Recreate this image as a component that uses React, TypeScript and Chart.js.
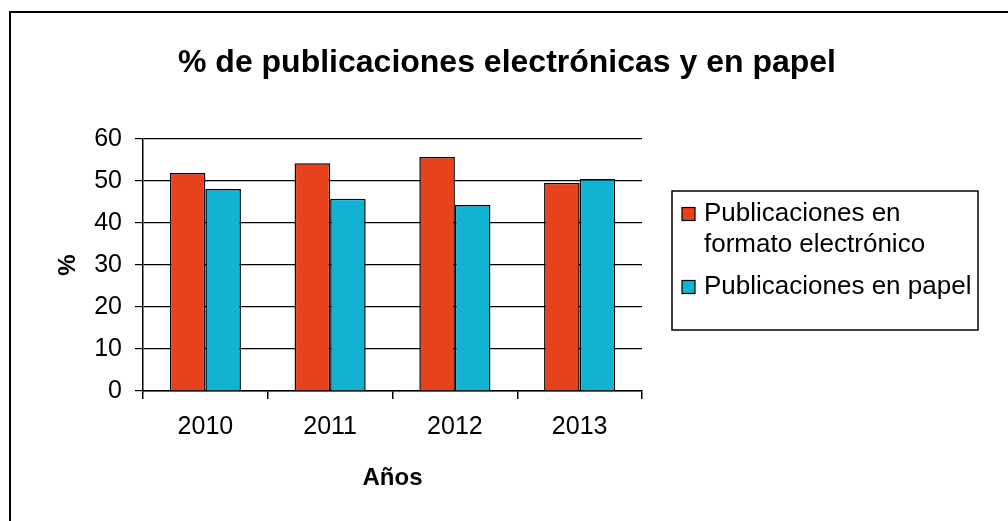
import React, { useEffect, useRef } from "react";
import { Chart, registerables } from "chart.js";

Chart.register(...registerables);

const title = "% de publicaciones electrónicas y en papel";
const categories = ["2010", "2011", "2012", "2013"];
const electronicLabel = "Publicaciones en formato electrónico";
const paperLabel = "Publicaciones en papel";
const electronicValues = [51.9, 54.2, 55.7, 49.5];
const paperValues = [48.1, 45.8, 44.3, 50.5];
const yAxisTitle = "%";
const xAxisTitle = "Años";
const yTicks = [0, 10, 20, 30, 40, 50, 60];

const RED = "rgb(232,65,30)";
const BLUE = "rgb(18,178,211)";
const FONT = "'Liberation Sans', Arial, Helvetica, sans-serif";

const framePlugin = {
  id: "framePlugin",
  afterDraw(chart: any) {
    const ctx = chart.ctx;
    ctx.save();
    // outer frame (top and left)
    ctx.strokeStyle = "#000";
    ctx.lineWidth = 2;
    ctx.beginPath();
    ctx.moveTo(10, chart.height);
    ctx.lineTo(10, 12);
    ctx.lineTo(chart.width, 12);
    ctx.stroke();

    // title
    ctx.fillStyle = "#000";
    ctx.font = `bold 32px ${FONT}`;
    ctx.textAlign = "center";
    ctx.textBaseline = "alphabetic";
    ctx.fillText(title, 507, 72);
    ctx.restore();

    // legend
    ctx.save();
    const bx = 672, by = 191, bw = 306, bh = 139;
    ctx.strokeStyle = "#000";
    ctx.lineWidth = 1.5;
    ctx.fillStyle = "#fff";
    ctx.fillRect(bx, by, bw, bh);
    ctx.strokeRect(bx, by, bw, bh);
    ctx.font = `26px ${FONT}`;
    ctx.textAlign = "left";
    ctx.textBaseline = "middle";
    const textX = 704;
    const maxW = bx + bw - textX - 3;
    let y = 214;
    chart.data.datasets.forEach((ds: any) => {
      const words = String(ds.label).split(" ");
      const lines: string[] = [];
      let cur = "";
      words.forEach((w: string) => {
        const t = cur ? cur + " " + w : w;
        if (ctx.measureText(t).width > maxW && cur) {
          lines.push(cur);
          cur = w;
        } else cur = t;
      });
      if (cur) lines.push(cur);
      ctx.fillStyle = ds.backgroundColor;
      ctx.fillRect(682, y - 6.5, 13, 13);
      ctx.lineWidth = 1.2;
      ctx.strokeRect(682, y - 6.5, 13, 13);
      ctx.fillStyle = "#000";
      lines.forEach((ln, i) => {
        ctx.fillText(ln, textX, y + i * 31);
      });
      y += lines.length * 31 + 11;
    });
    ctx.restore();
  },
};

export default function App() {
  const ref = useRef<HTMLCanvasElement>(null);
  useEffect(() => {
    if (!ref.current) return;
    const chart = new Chart(ref.current, {
      type: "bar",
      data: {
        labels: categories,
        datasets: [
          {
            label: electronicLabel,
            data: electronicValues,
            backgroundColor: RED,
            borderColor: "#000",
            borderWidth: 1.5,
            categoryPercentage: 0.57,
            barPercentage: 1.0,
          },
          {
            label: paperLabel,
            data: paperValues,
            backgroundColor: BLUE,
            borderColor: "#000",
            borderWidth: 1.5,
            categoryPercentage: 0.57,
            barPercentage: 1.0,
          },
        ],
      },
      options: {
        animation: false,
        responsive: true,
        maintainAspectRatio: false,
        layout: { padding: { left: 0, right: 366, top: 139, bottom: 0 } },
        plugins: {
          legend: { display: false },
          title: { display: false },
          tooltip: { enabled: false },
        },
        scales: {
          x: {
            afterFit: (s: any) => {
              s.height = 130;
            },
            grid: {
              drawOnChartArea: false,
              drawTicks: true,
              tickLength: 8,
              color: "#000",
              lineWidth: 1.5,
            },
            border: { display: true, color: "#000", width: 1.5 },
            ticks: {
              color: "#000",
              font: { family: FONT, size: 25 },
              padding: 13,
            },
            title: {
              display: true,
              text: xAxisTitle,
              color: "#000",
              font: { family: FONT, size: 24, weight: "bold" },
              padding: { top: 0, bottom: 28.6 },
            },
          },
          y: {
            min: 0,
            max: 60,
            afterFit: (s: any) => {
              s.width = 143;
            },
            afterBuildTicks: (s: any) => {
              s.ticks = yTicks.map((v) => ({ value: v }));
            },
            grid: {
              color: "#000",
              lineWidth: 1.2,
              tickLength: 8,
            },
            border: { display: true, color: "#000", width: 1.5 },
            ticks: {
              color: "#000",
              font: { family: FONT, size: 25 },
              padding: 13,
            },
            title: {
              display: true,
              text: yAxisTitle,
              color: "#000",
              font: { family: FONT, size: 24, weight: "bold" },
              padding: { top: 53.6, bottom: 0 },
            },
          },
        },
      },
      plugins: [framePlugin],
    });
    return () => chart.destroy();
  }, []);
  return (
    <div style={{ position: "fixed", left: 0, top: 0, width: 1008, height: 521, background: "#fff" }}>
      <canvas ref={ref} width={1008} height={521} />
    </div>
  );
}
